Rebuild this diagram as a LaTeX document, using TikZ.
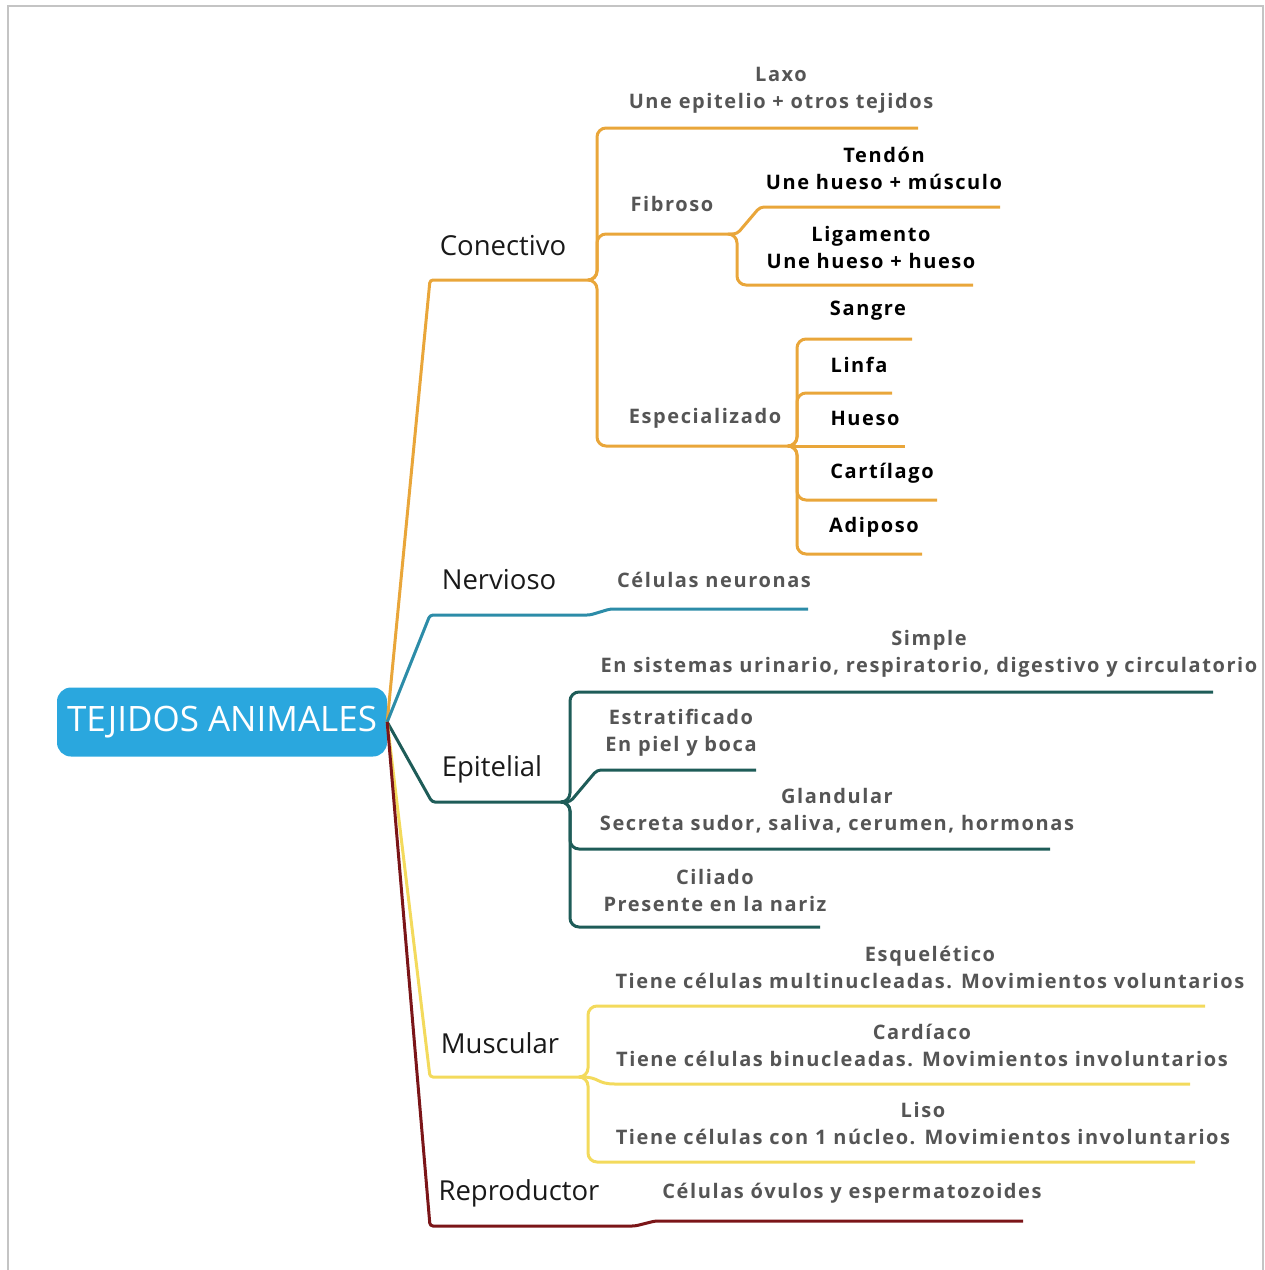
\documentclass[tikz,border=0pt]{standalone}
\usepackage{fontspec}
\setmainfont{Open Sans}
\newfontfamily\subfont[LetterSpace=8]{Open Sans}
\usetikzlibrary{positioning}
\definecolor{raizazul}{HTML}{2AA7DE}
\definecolor{conec}{HTML}{E9A63A}
\definecolor{nerv}{HTML}{2C8CA8}
\definecolor{epit}{HTML}{1E5C58}
\definecolor{musc}{HTML}{F3DA5C}
\definecolor{repro}{HTML}{7B1518}
\definecolor{marco}{HTML}{C4C4C4}
\definecolor{gris}{HTML}{555555}

\begin{document}
\begin{tikzpicture}[x=1pt,y=-1pt,
  rama/.style={line width=3pt, rounded corners=9pt},
  tema/.style={font=\fontsize{27.5}{32}\selectfont, text=black!90, inner sep=0pt},
  sub/.style={font=\subfont\bfseries\fontsize{20}{27}\selectfont, text=gris, align=center, inner sep=0pt},
  hoja/.style={sub, text=black}]
  \useasboundingbox (0,0) rectangle (1265,1270);
  \draw[marco, line width=2.5pt] (8,1270) -- (8,6) -- (1263,6) -- (1263,1270);

  \node[fill=raizazul, rounded corners=14pt, minimum width=330pt, minimum height=69pt,
    text=white, font=\fontsize{35}{40}\selectfont] (raiz) at (222,722) {TEJIDOS ANIMALES};

  % ramas principales
  \node[tema] (conectivo) at (503,246) {Conectivo};
  \node[tema] (nervioso) at (499,580) {Nervioso};
  \node[tema] (epitelial) at (492,769) {Epitelial};
  \node[tema] (muscular) at (500,1043) {Muscular};
  \node[tema] (reproductor) at (519,1193) {Reproductor};

  % conectivo
  \node[sub] (laxo) at (781,90) {Laxo\\Une epitelio + otros tejidos};
  \node[sub] (fibroso) at (672,204) {Fibroso};
  \node[hoja] (tendon) at (884,168) {Tendón\\Une hueso + músculo};
  \node[hoja] (ligamento) at (871,247) {Ligamento\\Une hueso + hueso};
  \node[sub] (especializado) at (705,418) {Especializado};
  \node[hoja] (sangre) at (868,311) {Sangre};
  \node[hoja] (linfa) at (859,365) {Linfa};
  \node[hoja] (hueso) at (865,418) {Hueso};
  \node[hoja] (cartilago) at (882,473) {Cartílago};
  \node[hoja] (adiposo) at (874,527) {Adiposo};

  % nervioso
  \node[sub] (neuronas) at (714,580) {Células neuronas};

  % epitelial
  \node[sub] (simple) at (929,654) {Simple\\En sistemas urinario, respiratorio, digestivo y circulatorio};
  \node[sub] (estratificado) at (681,733) {Estratificado\\En piel y boca};
  \node[sub] (glandular) at (837,811) {Glandular\\Secreta sudor, saliva, cerumen, hormonas};
  \node[sub] (ciliado) at (715,890) {Ciliado\\Presente en la nariz};

  % muscular
  \node[sub] (esqueletico) at (930,967) {Esquelético\\Tiene células multinucleadas. Movimientos voluntarios};
  \node[sub] (cardiaco) at (922,1045) {Cardíaco\\Tiene células binucleadas. Movimientos involuntarios};
  \node[sub] (liso) at (923,1124) {Liso\\Tiene células con 1 núcleo. Movimientos involuntarios};

  % reproductor
  \node[sub] (ovulos) at (852,1193) {Células óvulos y espermatozoides};

  % puntos de union
  \coordinate (jcon) at (588,280);
  \coordinate (jfib) at (733,234);
  \coordinate (jesp) at (792,446);
  \coordinate (jepi) at (562,802);
  \coordinate (jmus) at (582,1077);

  % lineas conectivo
  \draw[rama, conec, rounded corners=3pt] (raiz.east) -- (430,280) -- (jcon);
  \draw[rama, conec] (jcon) -- (597,280) -- (597,128) -- (918,128);
  \draw[rama, conec] (jcon) -- (597,280) -- (597,234) -- (jfib);
  \draw[rama, conec] (jcon) -- (597,280) -- (597,446) -- (jesp);
  \draw[rama, conec, rounded corners=4pt] (jfib) -- (737,234) -- (760,207) -- (1000,207);
  \draw[rama, conec] (jfib) -- (737,234) -- (737,285) -- (973,285);
  \draw[rama, conec] (jesp) -- (797,446) -- (797,339) -- (912,339);
  \draw[rama, conec] (jesp) -- (797,446) -- (797,393) -- (892,393);
  \draw[rama, conec] (jesp) -- (905,446);
  \draw[rama, conec] (jesp) -- (797,446) -- (797,500) -- (937,500);
  \draw[rama, conec] (jesp) -- (797,446) -- (797,554) -- (922,554);

  % lineas nervioso
  \draw[rama, nerv, rounded corners=3pt] (raiz.east) -- (430,615) -- (590,615) -- (610,609) -- (808,609);

  % lineas epitelial
  \draw[rama, epit, rounded corners=3pt] (raiz.east) -- (432,802) -- (jepi);
  \draw[rama, epit] (jepi) -- (570,802) -- (570,692) -- (1213,692);
  \draw[rama, epit, rounded corners=4pt] (jepi) -- (570,802) -- (597,770) -- (756,770);
  \draw[rama, epit] (jepi) -- (570,802) -- (570,849) -- (1050,849);
  \draw[rama, epit] (jepi) -- (570,802) -- (570,927) -- (820,927);

  % lineas muscular
  \draw[rama, musc, rounded corners=3pt] (raiz.east) -- (430,1077) -- (jmus);
  \draw[rama, musc] (jmus) -- (588,1077) -- (588,1006) -- (1205,1006);
  \draw[line width=3pt, musc] (jmus) .. controls (600,1077) and (596,1084) .. (615,1084) -- (1190,1084);
  \draw[rama, musc] (jmus) -- (588,1077) -- (588,1162) -- (1195,1162);

  % lineas reproductor
  \draw[rama, repro, rounded corners=3pt] (raiz.east) -- (430,1226) -- (635,1226) -- (655,1221) -- (1023,1221);
\end{tikzpicture}
\end{document}
